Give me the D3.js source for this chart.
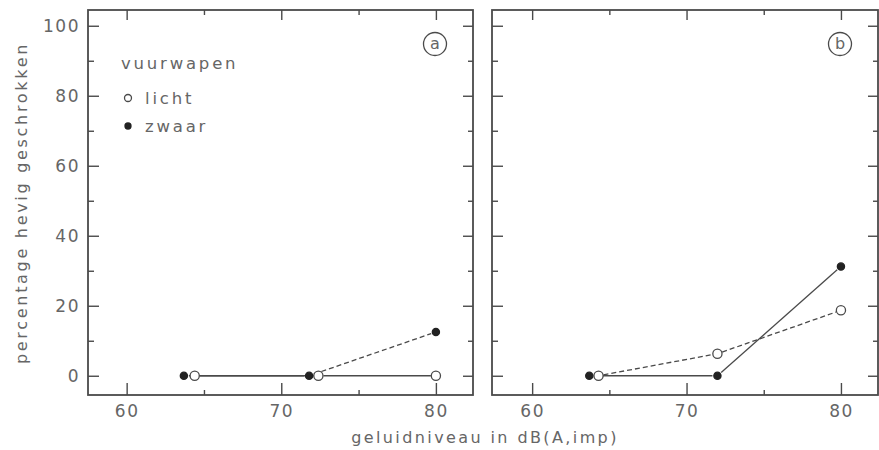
<!DOCTYPE html>
<html><head><meta charset="utf-8">
<script src="https://cdn.jsdelivr.net/npm/d3@7"></script>
<style>
body{margin:0;background:#fff;}
svg text{font-family:"DejaVu Sans",sans-serif;fill:#666;}
</style></head>
<body><svg id="c" width="879" height="450"></svg>
<script>
// ---- data ----
const xTicks = [60, 70, 80];
const xMinorTicks = [65, 75];
const yTicks = [0, 20, 40, 60, 80, 100];
const yMinorTicks = [10, 30, 50, 70, 90];
const panelA_licht_x = [64.4, 72.4, 80];
const panelA_licht_y = [0, 0, 0];
const panelA_zwaar_x = [63.7, 71.8, 80];
const panelA_zwaar_y = [0, 0, 12.5];
const panelB_licht_x = [64.3, 72, 80];
const panelB_licht_y = [0, 6.3, 18.7];
const panelB_zwaar_x = [63.7, 72, 80];
const panelB_zwaar_y = [0, 0, 31.2];
const legendTitle = "vuurwapen";
const seriesNames = ["licht", "zwaar"];
const panelLabels = ["a", "b"];
const yTitle = "percentage hevig geschrokken";
const xTitle = "geluidniveau in dB(A,imp)";

// segment styles (true = dashed)
const segDash = {
  a: {licht: [false, false], zwaar: [false, true]},
  b: {licht: [true, true], zwaar: [false, false]}
};

const svg = d3.select("#c");
const ink = "#4a4a4a";
const txt = "#666";
const y = d3.scaleLinear().domain([-5.5, 104.5]).range([395, 10]);

const panels = [
  {key: "a", label: panelLabels[0], x: d3.scaleLinear().domain([57.5, 82.4]).range([88, 473]),
   series: {licht: [panelA_licht_x, panelA_licht_y], zwaar: [panelA_zwaar_x, panelA_zwaar_y]}, yLabels: true},
  {key: "b", label: panelLabels[1], x: d3.scaleLinear().domain([57.4, 82.4]).range([492, 878]),
   series: {licht: [panelB_licht_x, panelB_licht_y], zwaar: [panelB_zwaar_x, panelB_zwaar_y]}, yLabels: false}
];

function styleAxis(g){
  g.select(".domain").remove();
  g.selectAll("line").attr("stroke", ink).attr("stroke-width", 1.4);
  g.selectAll("text").attr("font-size", 17).attr("letter-spacing", 1.5).attr("fill", txt)
   .attr("font-family", "DejaVu Sans, sans-serif");
}

panels.forEach(p => {
  const x = p.x;
  const [x0, x1] = x.range();
  const [y0, y1] = y.range();
  const g = svg.append("g");
  // axes
  g.append("g").attr("transform", `translate(0,${y0})`)
    .call(d3.axisBottom(x).tickValues(xTicks).tickSize(-12).tickPadding(10).tickFormat(d3.format("d"))).call(styleAxis);
  g.append("g").attr("transform", `translate(0,${y0})`)
    .call(d3.axisBottom(x).tickValues(xMinorTicks).tickSize(-5).tickFormat("")).call(styleAxis);
  g.append("g").attr("transform", `translate(0,${y1})`)
    .call(d3.axisTop(x).tickValues(xTicks).tickSize(-10).tickFormat("")).call(styleAxis);
  g.append("g").attr("transform", `translate(0,${y1})`)
    .call(d3.axisTop(x).tickValues(xMinorTicks).tickSize(-5).tickFormat("")).call(styleAxis);
  g.append("g").attr("transform", `translate(${x0},0)`)
    .call(d3.axisLeft(y).tickValues(yTicks).tickSize(-11).tickPadding(8).tickFormat(p.yLabels ? d3.format("d") : "")).call(styleAxis);
  g.append("g").attr("transform", `translate(${x0},0)`)
    .call(d3.axisLeft(y).tickValues(yMinorTicks).tickSize(-6).tickFormat("")).call(styleAxis);
  g.append("g").attr("transform", `translate(${x1},0)`)
    .call(d3.axisRight(y).tickValues(yTicks).tickSize(-10).tickFormat("")).call(styleAxis);
  g.append("g").attr("transform", `translate(${x1},0)`)
    .call(d3.axisRight(y).tickValues(yMinorTicks).tickSize(-5).tickFormat("")).call(styleAxis);
  // frame
  g.append("rect").attr("x", x0).attr("y", y1).attr("width", x1 - x0).attr("height", y0 - y1)
    .attr("fill", "none").attr("stroke", ink).attr("stroke-width", 1.8);

  // lines (segments shortened near markers)
  const gap = 5;
  seriesNames.forEach(name => {
    const [xs, ys] = p.series[name];
    for (let i = 0; i < xs.length - 1; i++) {
      const ax = x(xs[i]), ay = y(ys[i]), bx = x(xs[i+1]), by = y(ys[i+1]);
      const len = Math.hypot(bx - ax, by - ay);
      const ux = (bx - ax) / len, uy = (by - ay) / len;
      g.append("line")
        .attr("x1", ax + ux * gap).attr("y1", ay + uy * gap)
        .attr("x2", bx - ux * gap).attr("y2", by - uy * gap)
        .attr("stroke", ink).attr("stroke-width", 1.3)
        .attr("stroke-dasharray", segDash[p.key][name][i] ? "5,3" : null);
    }
  });
  // markers
  seriesNames.forEach(name => {
    const [xs, ys] = p.series[name];
    g.selectAll(null).data(xs.map((d, i) => [d, ys[i]])).join("circle")
      .attr("cx", d => x(d[0])).attr("cy", d => y(d[1]))
      .attr("r", name === "licht" ? 4.6 : 3.6)
      .attr("fill", name === "licht" ? "#fff" : "#222")
      .attr("stroke", name === "licht" ? ink : "#222").attr("stroke-width", 1.3);
  });
  // panel label
  const lx = x1 - 38, ly = 44;
  g.append("circle").attr("cx", lx).attr("cy", ly).attr("r", 11.5).attr("fill", "none").attr("stroke", ink).attr("stroke-width", 1.3);
  g.append("text").attr("x", lx).attr("y", ly + 5).attr("text-anchor", "middle").attr("font-size", 16).text(p.label);
});

// legend
const leg = svg.append("g");
leg.append("text").attr("x", 121).attr("y", 69).attr("font-size", 16.5).attr("letter-spacing", 2.8).text(legendTitle);
seriesNames.forEach((name, i) => {
  const cy = 98 + i * 28;
  leg.append("circle").attr("cx", 128).attr("cy", cy).attr("r", name === "licht" ? 3.5 : 3)
    .attr("fill", name === "licht" ? "#fff" : "#222").attr("stroke", name === "licht" ? ink : "#222").attr("stroke-width", 1.3);
  leg.append("text").attr("x", 145).attr("y", cy + 6).attr("font-size", 16.5).attr("letter-spacing", 2.8).text(name);
});

// axis titles
svg.append("text").attr("transform", "translate(27,203) rotate(-90)").attr("text-anchor", "middle")
  .attr("font-size", 16).attr("letter-spacing", 2.7).text(yTitle);
svg.append("text").attr("x", 485).attr("y", 443).attr("text-anchor", "middle")
  .attr("font-size", 16).attr("letter-spacing", 2.4).text(xTitle);
</script></body></html>
